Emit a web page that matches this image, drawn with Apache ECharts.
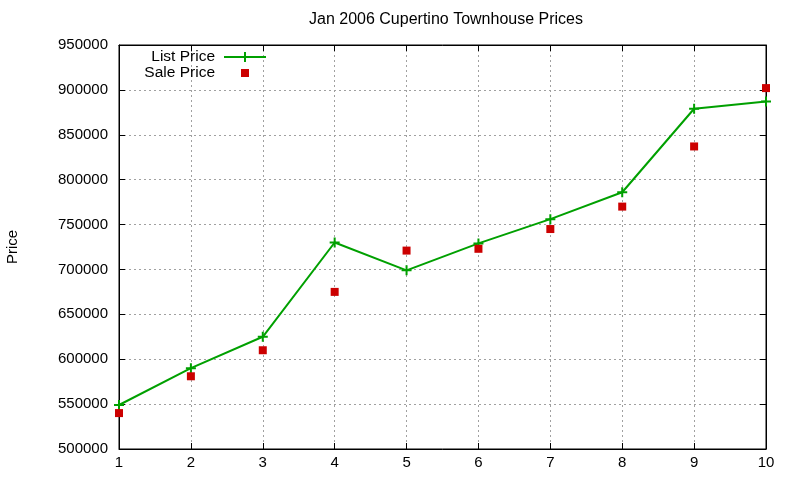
<!DOCTYPE html>
<html>
<head>
<meta charset="utf-8">
<script src="https://cdn.jsdelivr.net/npm/echarts@6/dist/echarts.min.js"></script>
<style>
  html, body { margin: 0; padding: 0; background: #fff; }
  #chart { width: 800px; height: 480px; }
</style>
</head>
<body>
<div id="chart"></div>
<script>
const months = ['1', '2', '3', '4', '5', '6', '7', '8', '9', '10'];
const listPrice = [549000, 590000, 625000, 730000, 699000, 729000, 756000, 786000, 879000, 887000];
const salePrice = [540000, 581000, 610000, 675000, 721000, 723000, 745000, 770000, 837000, 902000];

const FONT = '"Liberation Sans", Arial, sans-serif';
const GREEN = '#00a000';
const RED = '#cc0000';

const plusSymbol = 'path://M4,0 L6,0 L6,4 L10,4 L10,6 L6,6 L6,10 L4,10 L4,6 L0,6 L0,4 L4,4 Z';
const lineIcon = 'path://M0,4 L42,4 L42,6 L0,6 Z M20,0 L22,0 L22,10 L20,10 Z';
const squareIcon = 'path://M0,0 M42,10 M17,1 L25,1 L25,9 L17,9 Z';

const gridLine = { show: true, lineStyle: { color: '#a0a0a0', type: [2, 3], width: 1 } };
const tickIn = { show: true, inside: true, length: 6, lineStyle: { color: '#000' } };

const chart = echarts.init(document.getElementById('chart'), null, { renderer: 'canvas' });
chart.setOption({
  animation: false,
  backgroundColor: '#fff',
  textStyle: { fontFamily: FONT },
  title: {
    text: 'Jan 2006 Cupertino Townhouse Prices',
    left: 441,
    textAlign: 'center',
    top: 7,
    textStyle: { fontFamily: FONT, fontSize: 16, fontWeight: 'normal', color: '#000' }
  },
  legend: {
    orient: 'vertical',
    align: 'right',
    right: 529,
    top: 44,
    itemWidth: 42,
    itemHeight: 10,
    itemGap: 0,
    textStyle: { fontFamily: FONT, fontSize: 15.5, color: '#000', padding: [0, 4, 0, 0] },
    data: [
      { name: 'List Price', icon: lineIcon },
      { name: 'Sale Price', icon: squareIcon }
    ]
  },
  grid: {
    left: 119, right: 34, top: 45, bottom: 31,
    outerBoundsMode: 'none',
    containLabel: false,
    show: true, borderColor: '#000', borderWidth: 1
  },
  xAxis: [
    {
      type: 'category',
      data: months,
      boundaryGap: false,
      axisLine: { lineStyle: { color: '#000' } },
      axisTick: tickIn,
      axisLabel: { color: '#000', fontSize: 15, fontFamily: FONT, margin: 6 },
      splitLine: gridLine
    },
    {
      type: 'category',
      data: months,
      boundaryGap: false,
      position: 'top',
      axisLine: { lineStyle: { color: '#000' } },
      axisTick: tickIn,
      axisLabel: { show: false },
      splitLine: { show: false }
    }
  ],
  yAxis: [
    {
      type: 'value',
      min: 500000,
      max: 950000,
      interval: 50000,
      name: 'Price',
      nameLocation: 'middle',
      nameRotate: 90,
      nameGap: 99,
      nameTextStyle: { fontFamily: FONT, fontSize: 15, color: '#000' },
      axisLine: { show: true, lineStyle: { color: '#000' } },
      axisTick: tickIn,
      axisLabel: { color: '#000', fontSize: 15, fontFamily: FONT, margin: 11, formatter: v => String(v) },
      splitLine: gridLine
    },
    {
      type: 'value',
      min: 500000,
      max: 950000,
      interval: 50000,
      position: 'right',
      axisLine: { show: true, lineStyle: { color: '#000' } },
      axisTick: tickIn,
      axisLabel: { show: false },
      splitLine: { show: false }
    }
  ],
  series: [
    {
      name: 'List Price',
      type: 'line',
      data: listPrice,
      color: GREEN,
      lineStyle: { color: GREEN, width: 2 },
      symbol: plusSymbol,
      symbolSize: 10,
      showSymbol: true,
      itemStyle: { color: GREEN },
      z: 2
    },
    {
      name: 'Sale Price',
      type: 'scatter',
      data: salePrice,
      color: RED,
      symbol: 'rect',
      symbolSize: 8,
      itemStyle: { color: RED, opacity: 1 },
      z: 3
    }
  ]
});
</script>
</body>
</html>
